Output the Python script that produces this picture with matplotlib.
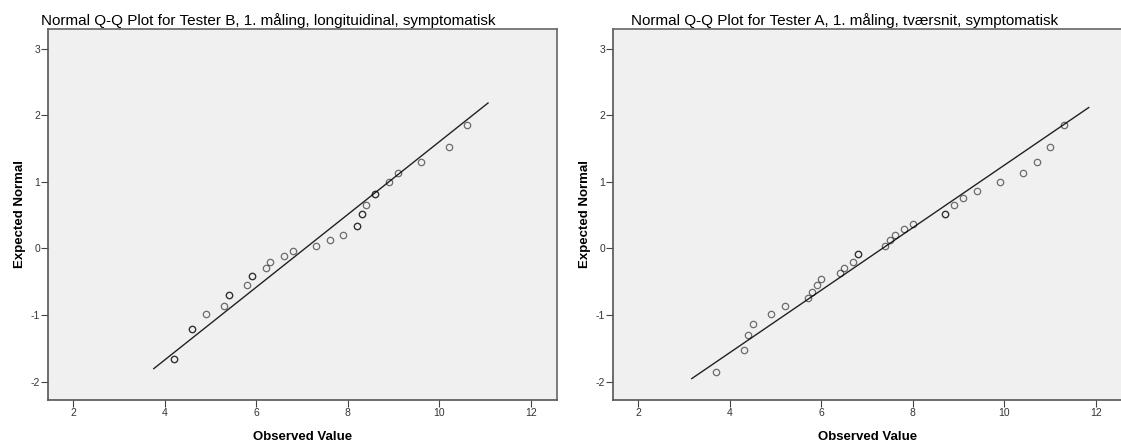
"""
Normal Q-Q plots, Tester B (longitudinal) and Tester A (tvaersnit), 1. maaling
"""
import numpy as np
import matplotlib
matplotlib.use('Agg')
import matplotlib.pyplot as plt

plt.rcParams['font.family'] = ['Liberation Sans', 'DejaVu Sans']
plt.rcParams['axes.unicode_minus'] = False

# Tester B, 1. maaling, longituidinal -- observed values (ties repeated)
obs_b = [4.2, 4.2, 4.6, 4.6, 4.9, 5.3, 5.4, 5.4, 5.8, 5.9, 5.9, 6.2, 6.3, 6.6, 6.8,
         7.3, 7.6, 7.9, 8.2, 8.2, 8.3, 8.3, 8.4, 8.6, 8.6, 8.9, 9.1, 9.6, 10.2, 10.6]
exp_b = [-1.66, -1.66, -1.21, -1.21, -0.99, -0.86, -0.70, -0.70, -0.55, -0.42, -0.42,
         -0.29, -0.20, -0.12, -0.04, 0.04, 0.12, 0.20, 0.33, 0.33, 0.51, 0.51, 0.65,
         0.81, 0.81, 0.99, 1.13, 1.30, 1.52, 1.85]
line_x_b = [3.76, 11.06]

# Tester A, 1. maaling, tvaersnit
obs_a = [3.7, 4.3, 4.4, 4.5, 4.9, 5.2, 5.7, 5.8, 5.9, 6.0, 6.4, 6.5, 6.7, 6.8, 6.8,
         7.4, 7.5, 7.6, 7.8, 8.0, 8.7, 8.7, 8.9, 9.1, 9.4, 9.9, 10.4, 10.7, 11.0, 11.3]
exp_a = [-1.85, -1.52, -1.30, -1.13, -0.99, -0.86, -0.75, -0.65, -0.55, -0.46, -0.37,
         -0.29, -0.20, -0.08, -0.08, 0.04, 0.12, 0.20, 0.29, 0.37, 0.51, 0.51, 0.65,
         0.75, 0.86, 0.99, 1.13, 1.30, 1.52, 1.85]
line_x_a = [3.17, 11.84]

titles = ["Normal Q-Q Plot for Tester B, 1. måling, longituidinal, symptomatisk",
          "Normal Q-Q Plot for Tester A, 1. måling, tværsnit, symptomatisk"]
xticks = [2, 4, 6, 8, 10, 12]
yticks = [-2, -1, 0, 1, 2, 3]

W, H = 1121, 441
fig = plt.figure(figsize=(W / 100, H / 100), dpi=100)

panels = [
    (obs_b, exp_b, line_x_b, 48.3, 41, titles[0]),
    (obs_a, exp_a, line_x_a, 613.3, 631, titles[1]),
]

for obs, exp, lx, left_px, title_px, title in panels:
    ax = fig.add_axes([left_px / W, 1 - 399.7 / H, 508.4 / W, 370.5 / H])
    ax.set_facecolor('#f0f0f0')
    obs = np.array(obs)
    # SPSS reference line: (x - mean) / sd
    m, s = obs.mean(), obs.std(ddof=1)
    lx = np.array(lx)
    ax.plot(lx, (lx - m) / s, color='#222222', lw=1.0, zorder=2)
    ax.plot(obs, exp, 'o', mfc='none', mec=(0, 0, 0, 0.55), ms=4.6, mew=0.9, zorder=3)

    ax.set_xlim(1.456, 12.56)
    ax.set_ylim(-2.27, 3.29)
    ax.set_xticks(xticks)
    ax.set_yticks(yticks)
    ax.tick_params(length=5, width=0.8, color='#444444', labelsize=7.5,
                   labelcolor='#333333', pad=1)
    for sp in ['top', 'right']:
        ax.spines[sp].set_color('#666666')
        ax.spines[sp].set_linewidth(1.2)
    for sp in ['left', 'bottom']:
        ax.spines[sp].set_color('#555555')
        ax.spines[sp].set_linewidth(1.2)

    ax.set_xlabel('Observed Value', fontsize=9.5, fontweight='bold', labelpad=9)
    ax.set_ylabel('Expected Normal', fontsize=9.5, fontweight='bold', labelpad=3)
    fig.text(title_px / W, 1 - 25 / H, title, fontsize=11, ha='left', va='baseline')

plt.savefig('out.png', dpi=100)
